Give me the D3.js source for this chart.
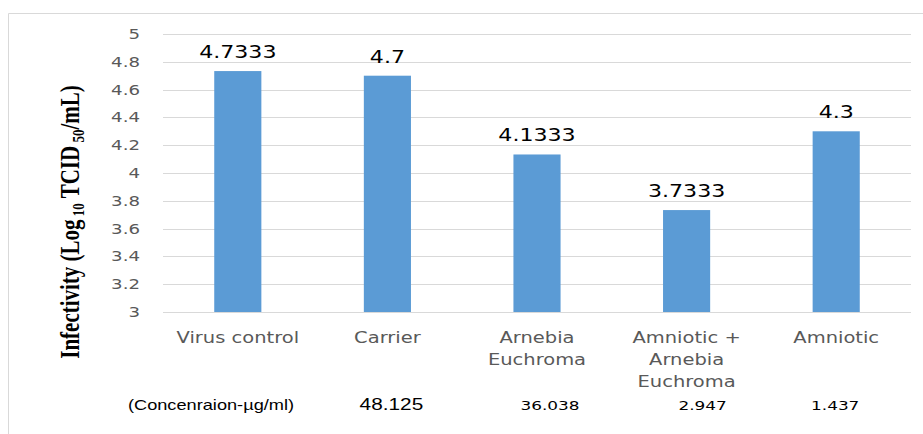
<!DOCTYPE html>
<html>
<head>
<meta charset="utf-8">
<script src="https://cdn.jsdelivr.net/npm/d3@7"></script>
<style>
  body { margin: 0; background: #fff; }
  svg { display: block; }
</style>
</head>
<body>
<div id="chart"></div>
<script>
// data
var categories = ["Virus control", "Carrier", "Arnebia\nEuchroma", "Amniotic +\nArnebia\nEuchroma", "Amniotic"];
var infectivity = [4.7333, 4.7, 4.1333, 3.7333, 4.3];
var valueLabels = ["4.7333", "4.7", "4.1333", "3.7333", "4.3"];
var concTitle = "(Concenraion-\u00b5g/ml)";
var concValues = ["48.125", "36.038", "2.947", "1.437"];
var yDomain = [3, 5];

var width = 923;
var height = 434;
var SX = 1.3; // the source picture is stretched sideways, so is the text

var plotLeft = 163, plotRight = 911, plotTop = 34, plotBottom = 312;

var svg = d3.select("#chart").append("svg")
	.attr("width", width)
	.attr("height", height);

// light frame round the chart (runs off the right and bottom)
svg.append("path")
	.attr("d", "M8.5," + height + "V13.5H" + width)
	.attr("fill", "none")
	.attr("stroke", "#d9d9d9");

var x = d3.scaleBand()
	.domain(categories)
	.range([plotLeft, plotRight])
	.paddingInner(0.685)
	.paddingOuter(0.3425);

var y = d3.scaleLinear()
	.domain(yDomain)
	.range([plotBottom, plotTop]);

function place(sel, px, py) {
	return sel.attr("transform", "translate(" + px + "," + py + ") scale(" + SX + ",1)");
}

// grid + y labels
var ticks = y.ticks(10);
svg.selectAll("line.grid")
	.data(ticks)
	.enter().append("line")
	.attr("class", "grid")
	.attr("x1", plotLeft)
	.attr("x2", plotRight)
	.attr("y1", function(d){ return Math.round(y(d)) + 0.5; })
	.attr("y2", function(d){ return Math.round(y(d)) + 0.5; })
	.attr("stroke", "#d9d9d9")
	.attr("stroke-width", 1);

svg.selectAll("text.ytick")
	.data(ticks)
	.enter().append("text")
	.attr("class", "ytick")
	.attr("text-anchor", "end")
	.attr("dy", "0.35em")
	.style("font-family", "DejaVu Sans")
	.style("font-size", "14px")
	.style("fill", "#595959")
	.text(d3.format("~g"))
	.each(function(d){ place(d3.select(this), 140, y(d)); });

// bars
svg.selectAll("rect.bar")
	.data(infectivity)
	.enter().append("rect")
	.attr("class", "bar")
	.attr("x", function(d, i){ return x(categories[i]); })
	.attr("width", x.bandwidth())
	.attr("y", function(d){ return y(d); })
	.attr("height", function(d){ return y(yDomain[0]) - y(d); })
	.attr("fill", "#5b9bd5");

// value labels
svg.selectAll("text.val")
	.data(infectivity)
	.enter().append("text")
	.attr("class", "val")
	.attr("text-anchor", "middle")
	.style("font-family", "DejaVu Sans")
	.style("font-size", "17px")
	.style("fill", "#000")
	.text(function(d, i){ return valueLabels[i]; })
	.each(function(d, i){ place(d3.select(this), x(categories[i]) + x.bandwidth() / 2, y(d) - 13); });

// category labels
categories.forEach(function(c){
	var lines = c.split("\n");
	lines.forEach(function(l, j){
		svg.append("text")
			.attr("text-anchor", "middle")
			.style("font-family", "DejaVu Sans")
			.style("font-size", "15px")
			.style("fill", "#595959")
			.text(l)
			.call(place, x(c) + x.bandwidth() / 2, 343 + j * 22);
	});
});

// y title
var yt = svg.append("text")
	.attr("text-anchor", "middle")
	.attr("transform", "translate(79,222) rotate(-90) scale(1," + SX + ")")
	.style("font-family", "Liberation Serif")
	.style("font-weight", "bold")
	.style("font-size", "21px")
	.style("fill", "#000");
yt.append("tspan").text("Infectivity (Log");
yt.append("tspan").attr("dy", 4).style("font-size", "13px").text(" 10");
yt.append("tspan").attr("dy", -4).text(" TCID");
yt.append("tspan").attr("dy", 4).style("font-size", "13px").text(" 50");
yt.append("tspan").attr("dy", -4).text("/mL)");

// concentration row under the chart
var concX = [211].concat(categories.slice(1).map(function(c){ return x(c) + x.bandwidth() / 2; }));
var concShift = [0, 4, 13, 16, -1];
svg.append("text")
	.attr("text-anchor", "middle")
	.style("font-family", "Liberation Sans")
	.style("font-size", "14px")
	.style("fill", "#000")
	.text(concTitle)
	.call(place, concX[0] + concShift[0], 410);

svg.selectAll("text.conc")
	.data(concValues)
	.enter().append("text")
	.attr("class", "conc")
	.attr("text-anchor", "middle")
	.style("font-family", function(d, i){ return i === 0 ? "Liberation Sans" : "DejaVu Sans"; })
	.style("font-size", function(d, i){ return i === 0 ? "16px" : "13px"; })
	.style("fill", "#000")
	.text(function(d){ return d; })
	.each(function(d, i){ place(d3.select(this), concX[i + 1] + concShift[i + 1], 410); });
</script>
</body>
</html>
